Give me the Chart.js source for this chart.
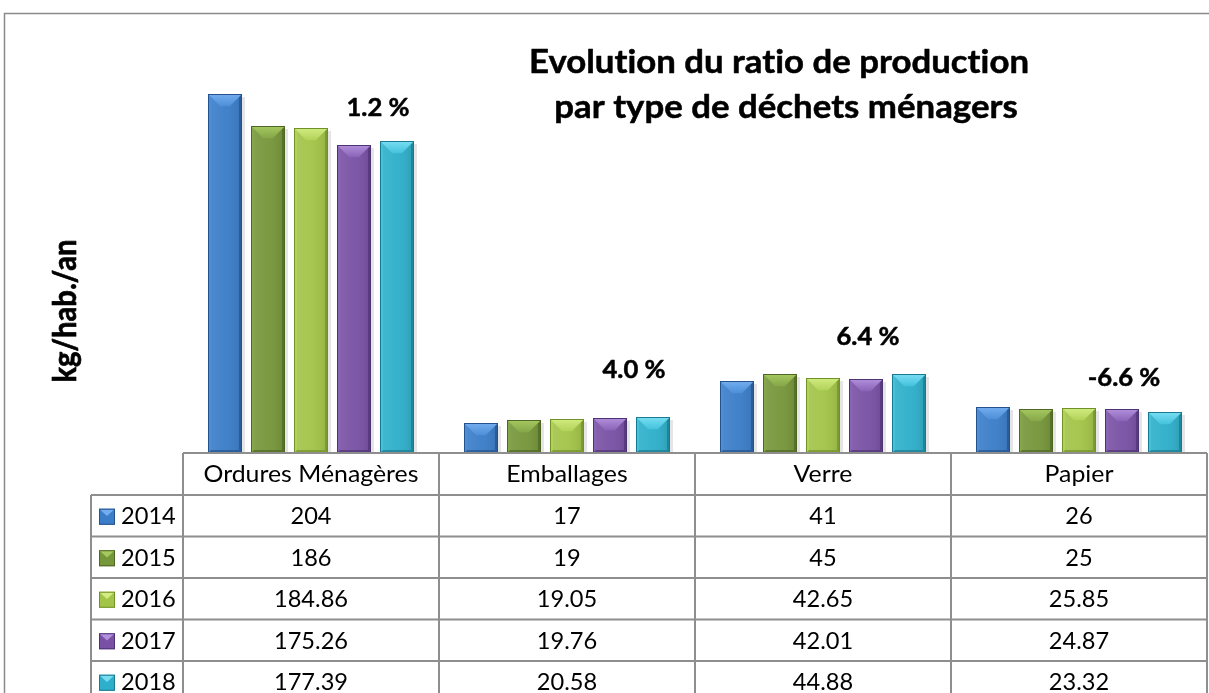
<!DOCTYPE html>
<html>
<head>
<meta charset="utf-8">
<script src="https://cdn.jsdelivr.net/npm/chart.js@4.4.1/dist/chart.umd.min.js"></script>
<style>
html,body{margin:0;padding:0;background:#fff;}
#wrap{position:relative;width:1209px;height:693px;overflow:hidden;}
canvas{display:block;}
</style>
</head>
<body>
<div id="wrap"><canvas id="c" width="1209" height="693"></canvas></div>
<script>
// ---- data ----
const categories = ['Ordures Ménagères', 'Emballages', 'Verre', 'Papier'];
const years = ['2014', '2015', '2016', '2017', '2018'];
const v2014 = [204, 17, 41, 26];
const v2015 = [186, 19, 45, 25];
const v2016 = [184.86, 19.05, 42.65, 25.85];
const v2017 = [175.26, 19.76, 42.01, 24.87];
const v2018 = [177.39, 20.58, 44.88, 23.32];
const growthLabels = ['1.2 %', '4.0 %', '6.4 %', '-6.6 %'];
const titleLines = ['Evolution du ratio de production', 'par type de déchets ménagers'];
const yTitle = 'kg/hab./an';

const seriesValues = [v2014, v2015, v2016, v2017, v2018];
const palette = [
  {mid:'#3b7dc8', light:'#74adef', edgeL:'#4c8fd8', dark:'#24528c'},
  {mid:'#76963a', light:'#a6c860', edgeL:'#86a748', dark:'#4f6624'},
  {mid:'#a2c448', light:'#d2ec80', edgeL:'#b2d25a', dark:'#70902a'},
  {mid:'#7851a5', light:'#b290dc', edgeL:'#8a63b8', dark:'#4e3374'},
  {mid:'#2eafca', light:'#7adef3', edgeL:'#44c2dc', dark:'#1a7a90'}
];
const FONT = 'Lato, "Open Sans", sans-serif';

// avoid the Lato "ti" ligature (zero-width non-joiner at draw time only)
function noLig(s) { return s.replace(/t(?=i)/g, 't\u200C'); }

function drawScaled(ctx, text, cx, cy, sx, heavy) {
  const s = noLig(text);
  ctx.save();
  ctx.translate(cx, cy);
  ctx.scale(sx, 1);
  ctx.fillText(s, 0, 0);
  if (heavy) {
    ctx.lineWidth = heavy;
    ctx.strokeStyle = ctx.fillStyle;
    ctx.lineJoin = 'round';
    ctx.strokeText(s, 0, 0);
  }
  ctx.restore();
}

const bevelPlugin = {
  id: 'bevel',
  afterDatasetsDraw(chart) {
    const ctx = chart.ctx;
    chart.data.datasets.forEach((ds, di) => {
      const meta = chart.getDatasetMeta(di);
      const p = palette[di];
      meta.data.forEach(el => {
        const l = Math.round(el.x - el.width/2), r = Math.round(el.x + el.width/2), t = Math.round(el.y), b = Math.round(el.base);
        const w = r - l, h = b - t;
        ctx.save();
        ctx.fillStyle = 'rgba(0,0,0,0.10)';
        ctx.fillRect(r, t + 3, 3, h - 3);
        ctx.fillStyle = p.mid;
        ctx.fillRect(l, t, w, h);
        const hg = ctx.createLinearGradient(l, 0, r, 0);
        hg.addColorStop(0, 'rgba(255,255,255,0.10)');
        hg.addColorStop(0.5, 'rgba(255,255,255,0.04)');
        hg.addColorStop(1, 'rgba(0,0,0,0.10)');
        ctx.fillStyle = hg;
        ctx.fillRect(l, t, w, h);
        const s = 3;
        const d = Math.min(w * 0.36, h * 0.6, 13);
        ctx.fillStyle = p.edgeL;
        ctx.beginPath(); ctx.moveTo(l, t); ctx.lineTo(l + s, t + s); ctx.lineTo(l + s, b - s); ctx.lineTo(l, b); ctx.closePath(); ctx.fill();
        ctx.fillStyle = p.dark;
        ctx.globalAlpha = 0.7;
        ctx.beginPath(); ctx.moveTo(r, t); ctx.lineTo(r - s, t + s); ctx.lineTo(r - s, b - s); ctx.lineTo(r, b); ctx.closePath(); ctx.fill();
        ctx.beginPath(); ctx.moveTo(l, b); ctx.lineTo(l + s, b - s); ctx.lineTo(r - s, b - s); ctx.lineTo(r, b); ctx.closePath(); ctx.fill();
        ctx.globalAlpha = 1;
        const tg = ctx.createLinearGradient(0, t, 0, t + d);
        tg.addColorStop(0, p.light);
        tg.addColorStop(1, p.edgeL);
        ctx.fillStyle = tg;
        ctx.beginPath(); ctx.moveTo(l, t); ctx.lineTo(r, t); ctx.lineTo(r - d, t + d); ctx.lineTo(l + d, t + d); ctx.closePath(); ctx.fill();
        ctx.strokeStyle = p.dark; ctx.lineWidth = 1;
        ctx.strokeRect(l + 0.5, t + 0.5, w - 1, h - 1);
        ctx.restore();
      });
    });
  }
};

const decorPlugin = {
  id: 'decor',
  afterDraw(chart) {
    const ctx = chart.ctx;
    const xs = chart.scales.x, ys = chart.scales.y;
    const area = chart.chartArea;
    ctx.save();
    ctx.strokeStyle = '#8a8a8a'; ctx.lineWidth = 1.5;
    ctx.beginPath(); ctx.moveTo(4.5, 700); ctx.lineTo(4.5, 13.5); ctx.lineTo(1215, 13.5); ctx.stroke();

    ctx.fillStyle = '#000';
    ctx.textAlign = 'center'; ctx.textBaseline = 'middle';
    ctx.font = 'bold 32px ' + FONT;
    const tsx = 500 / ctx.measureText(noLig(titleLines[0])).width;
    drawScaled(ctx, titleLines[0], 779, 63, tsx, 0.5);
    drawScaled(ctx, titleLines[1], 786, 108, tsx, 0.5);

    ctx.save();
    ctx.translate(66, 311); ctx.rotate(-Math.PI/2);
    ctx.font = 'bold 32px ' + FONT;
    const ysx = 143 / ctx.measureText(yTitle).width;
    drawScaled(ctx, yTitle, 0, 0, ysx, 0.7);
    ctx.restore();

    ctx.font = 'bold 25px ' + FONT;
    const gsx = 63 / ctx.measureText(growthLabels[0]).width;
    const ann = [{dx:67, y:108}, {dx:67, dy:-47}, {dx:45, dy:-37}, {dx:45, dy:-29}];
    categories.forEach((c, i) => {
      const cx = xs.getPixelForValue(i) + ann[i].dx;
      let y;
      if (ann[i].y !== undefined) y = ann[i].y;
      else {
        const mx = Math.max(...seriesValues.map(s => s[i]));
        y = ys.getPixelForValue(mx) + ann[i].dy;
      }
      drawScaled(ctx, growthLabels[i], cx, y, gsx, 0.5);
    });

    const base = area.bottom;
    const headH = 42, rowH = 41.5;
    const left = area.left, right = area.right;
    const labL = 91;
    const colW = (right - left) / categories.length;
    ctx.strokeStyle = '#8e8e8e'; ctx.lineWidth = 2;
    ctx.beginPath();
    ctx.moveTo(left, base); ctx.lineTo(right, base);
    for (let i = 0; i <= categories.length; i++) {
      const x = left + i*colW;
      ctx.moveTo(x, base); ctx.lineTo(x, 700);
    }
    ctx.moveTo(labL, base + headH); ctx.lineTo(labL, 700);
    for (let r = 0; r <= years.length; r++) {
      const y = base + headH + r*rowH;
      ctx.moveTo(labL, y); ctx.lineTo(right, y);
    }
    ctx.stroke();

    ctx.fillStyle = '#000';
    ctx.font = '23px ' + FONT;
    const tbsx = 215 / ctx.measureText(categories[0]).width;
    ctx.textBaseline = 'middle';
    ctx.textAlign = 'center';
    categories.forEach((c, i) => {
      drawScaled(ctx, c, left + (i + 0.5)*colW, base + headH/2 + 1, tbsx);
    });
    years.forEach((yr, r) => {
      const cy = base + headH + (r + 0.5)*rowH + 1;
      const p = palette[r];
      const kx = 99, ky = cy - 8, ks = 16;
      ctx.fillStyle = p.mid; ctx.fillRect(kx, ky, ks, ks);
      ctx.fillStyle = p.light;
      ctx.beginPath(); ctx.moveTo(kx, ky); ctx.lineTo(kx + ks, ky); ctx.lineTo(kx + ks/2, ky + ks*0.45); ctx.closePath(); ctx.fill();
      ctx.strokeStyle = p.dark; ctx.lineWidth = 1;
      ctx.strokeRect(kx + 0.5, ky + 0.5, ks - 1, ks - 1);
      ctx.fillStyle = '#000';
      ctx.textAlign = 'left';
      ctx.save(); ctx.translate(121, cy); ctx.scale(tbsx * 0.95, 1); ctx.fillText(yr, 0, 0); ctx.restore();
      ctx.textAlign = 'center';
      seriesValues[r].forEach((v, i) => {
        drawScaled(ctx, String(v), left + (i + 0.5)*colW, cy, tbsx * 0.95);
      });
    });
    ctx.restore();
  }
};

new Chart(document.getElementById('c'), {
  type: 'bar',
  data: {
    labels: categories,
    datasets: years.map((yr, i) => ({
      label: yr,
      data: seriesValues[i],
      backgroundColor: 'rgba(0,0,0,0)',
      borderWidth: 0,
      categoryPercentage: 0.84,
      barPercentage: 0.81
    }))
  },
  options: {
    responsive: false,
    animation: false,
    layout: { padding: { left: 183, right: 2, top: 66, bottom: 240 } },
    plugins: { legend: { display: false }, tooltip: { enabled: false }, title: { display: false } },
    scales: {
      x: { display: false },
      y: { display: false, min: 0, max: 220 }
    }
  },
  plugins: [bevelPlugin, decorPlugin]
});
</script>
</body>
</html>
